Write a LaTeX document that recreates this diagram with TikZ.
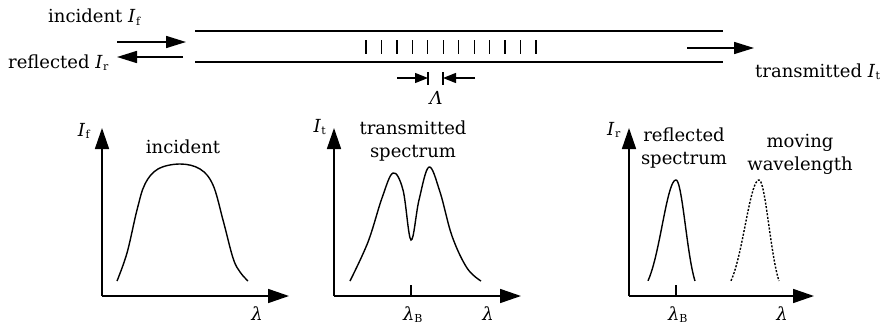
\documentclass[tikz,border=0pt]{standalone}
\usepackage{fontspec}
\setmainfont{DejaVu Serif}
\usetikzlibrary{arrows.meta}
\newcommand\myI[1]{\textit{I}\kern0.5pt\textsubscript{\fontsize{11}{11}\selectfont #1}}
\newcommand\mylam{\textit{λ}}
\begin{document}
\begin{tikzpicture}[x=1pt,y=-1pt,
  every node/.style={inner sep=0pt,font=\fontsize{18}{23}\selectfont},
  ln/.style={line width=1.4pt},
  bigarrow/.style={line width=1.6pt,-{Triangle[length=20pt,width=12pt]}},
  axarrow/.style={line width=1.6pt,-{Triangle[length=21pt,width=14pt]}},
  dimarrow/.style={line width=1.3pt,-{Triangle[length=13pt,width=10pt]}},
  curve/.style={line width=1.4pt},
]
\useasboundingbox (0,0) rectangle (884,332);
% fibre
\draw[ln] (195,31) -- (723,31);
\draw[ln] (195,62) -- (723,62);
\foreach \i in {0,...,11} \draw[line width=1.2pt] ({366+15.45*\i},40) -- ({366+15.45*\i},54);
% input / output arrows
\coordinate (inA) at (117,42); \coordinate (inB) at (186,42);
\coordinate (reA) at (183,57); \coordinate (reB) at (117,57);
\coordinate (trA) at (687,48); \coordinate (trB) at (754,48);
\draw[bigarrow] (inA) -- (inB);
\draw[bigarrow] (reA) -- (reB);
\draw[bigarrow] (trA) -- (trB);
\node[anchor=base west] (tinc) at (48,23) {incident \myI{f}};
\node[anchor=base west] (tref) at (8,68) {reflected \myI{r}};
\node[anchor=base west] (ttr) at (755,77) {transmitted \myI{t}};
% period
\coordinate (pa) at (397,78); \coordinate (pb) at (428,78);
\coordinate (pc) at (475,78); \coordinate (pd) at (443,78);
\draw[dimarrow] (pa) -- (pb);
\draw[dimarrow] (pc) -- (pd);
\draw[line width=1.2pt] (428,72) -- (428,85);
\draw[line width=1.2pt] (443,72) -- (443,85);
\node[anchor=base] (tL) at (436,104) {\textit{Λ}};
% plot 1
\coordinate (o1) at (102,296);
\draw[axarrow] (o1) -- (102,128);
\draw[axarrow] (o1) -- (289,296);
\node[anchor=base] (y1) at (84,136) {\myI{f}};
\node[anchor=base] (x1) at (257,320) {\mylam};
\node[anchor=base] (c1) at (183,153) {incident};
\draw[curve] plot[smooth,tension=0.6] coordinates {(117,281) (127,253) (137,210) (145,184) (158,169) (180,164) (200,169) (213,185) (223,220) (233,258) (240,272) (248,281)};
% plot 2
\coordinate (o2) at (334,296);
\draw[axarrow] (o2) -- (334,128);
\draw[axarrow] (o2) -- (521,296);
\node[anchor=base] (y2) at (320,132) {\myI{t}};
\node[anchor=base] (x2) at (488,320) {\mylam};
\draw[line width=1.2pt] (411,285) -- (411,296);
\node[anchor=base] (xb2) at (413,320) {\mylam\textsubscript{\fontsize{11}{11}\selectfont B}};
\node[align=center] (c2) at (413,141) {transmitted\\spectrum};
\draw[curve] plot[smooth,tension=0.6] coordinates {(350,281) (368,242) (382,198) (393,173) (403,190) (411,240) (419,200) (429,167) (440,192) (452,236) (467,268) (481,281)};
% plot 3
\coordinate (o3) at (629,296);
\draw[axarrow] (o3) -- (629,128);
\draw[axarrow] (o3) -- (814,296);
\node[anchor=base] (y3) at (614,135) {\myI{r}};
\node[anchor=base] (x3) at (782,320) {\mylam};
\draw[line width=1.2pt] (676,285) -- (676,296);
\node[anchor=base] (xb3) at (678,320) {\mylam\textsubscript{\fontsize{11}{11}\selectfont B}};
\node[align=center] (c3) at (684,148) {reflected\\spectrum};
\node[align=center] (c4) at (800,154) {moving\\wavelength};
\draw[curve] plot[domain=-28:0,samples=30] ({676+\x},{296-116*exp(-(\x)^2/(2*13.9^2))})
   -- plot[domain=0:19,samples=25] ({676+\x},{296-116*exp(-(\x)^2/(2*9.4^2))});
\draw[curve,dash pattern=on 2pt off 1.6pt] plot[domain=-28:0,samples=30] ({759+\x},{296-116*exp(-(\x)^2/(2*13.9^2))})
   -- plot[domain=0:20,samples=25] ({759+\x},{296-116*exp(-(\x)^2/(2*9.9^2))});
\end{tikzpicture}
\end{document}
